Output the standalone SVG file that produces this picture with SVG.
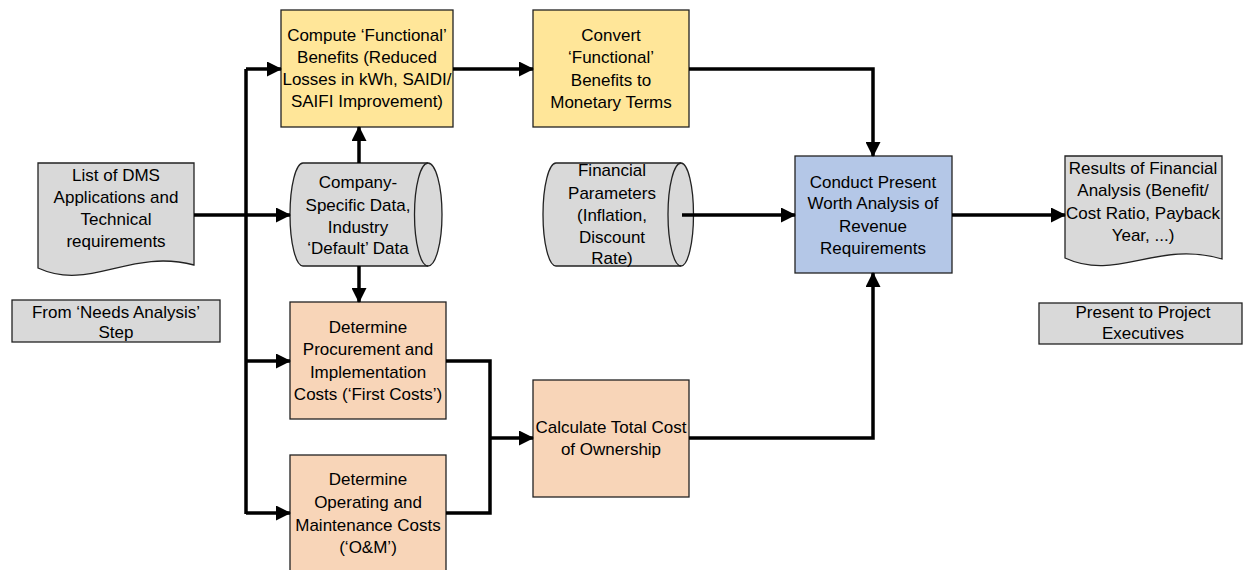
<svg xmlns="http://www.w3.org/2000/svg" width="1243" height="570" viewBox="0 0 1243 570">
<defs>
<marker id="ah" markerUnits="userSpaceOnUse" markerWidth="15" markerHeight="15" viewBox="0 0 15 15" refX="14" refY="7.5" orient="auto"><path d="M0,0 L15,7.5 L0,15 Z" fill="#000"/></marker>
<style>
.t{font-family:"Liberation Sans",Arial,sans-serif;font-size:17px;fill:#000;text-anchor:middle}
.b{stroke:#222;stroke-width:1.3}
.y{fill:#FFE699}.o{fill:#F8D5B8}.bl{fill:#B4C7E7}.g{fill:#D9D9D9}
.c{fill:none;stroke:#000;stroke-width:3.5}
.a{fill:none;stroke:#000;stroke-width:3.5;marker-end:url(#ah)}
</style>
</defs>
<rect width="1243" height="570" fill="#fff"/>
<g id="list">
<path class="b g" d="M38,163 H194 V265 C130,248 90,292 38,268 Z"/>
<text class="t" x="116" y="181">List of DMS</text>
<text class="t" x="116" y="203">Applications and</text>
<text class="t" x="116" y="225">Technical</text>
<text class="t" x="116" y="247">requirements</text>
</g>
<g id="from">
<rect class="b g" x="12" y="300" width="208" height="42"/>
<text class="t" x="116" y="318">From ‘Needs Analysis’</text>
<text class="t" x="116" y="338">Step</text>
</g>
<g id="compute">
<rect class="b y" x="281" y="10" width="172" height="117"/>
<text class="t" x="367" y="41">Compute ‘Functional’</text>
<text class="t" x="367" y="63">Benefits (Reduced</text>
<text class="t" x="367" y="85">Losses in kWh, SAIDI/</text>
<text class="t" x="367" y="107">SAIFI Improvement)</text>
</g>
<g id="convert">
<rect class="b y" x="533" y="10" width="156" height="117"/>
<text class="t" x="611" y="41">Convert</text>
<text class="t" x="611" y="63">‘Functional’</text>
<text class="t" x="611" y="86">Benefits to</text>
<text class="t" x="611" y="108">Monetary Terms</text>
</g>
<g id="company">
<path class="b g" d="M303,163 H428 A14,51.5 0 0 1 428,266 H303 A13,51.5 0 0 1 303,163 Z"/>
<path class="b" fill="none" d="M428,163 A13.5,51.5 0 0 0 428,266"/>
<text class="t" x="358" y="188">Company-</text>
<text class="t" x="358" y="211">Specific Data,</text>
<text class="t" x="358" y="233">Industry</text>
<text class="t" x="358" y="254">‘Default’ Data</text>
</g>
<g id="financial">
<path class="b g" d="M556,163 H681 A12.5,51.5 0 0 1 681,266 H556 A13,51.5 0 0 1 556,163 Z"/>
<path class="b" fill="none" d="M681,163 A13,51.5 0 0 0 681,266"/>
<text class="t" x="612" y="176">Financial</text>
<text class="t" x="612" y="199">Parameters</text>
<text class="t" x="612" y="221">(Inflation,</text>
<text class="t" x="612" y="243">Discount</text>
<text class="t" x="612" y="264">Rate)</text>
</g>
<g id="procurement">
<rect class="b o" x="290" y="302" width="156" height="117"/>
<text class="t" x="368" y="333">Determine</text>
<text class="t" x="368" y="355">Procurement and</text>
<text class="t" x="368" y="378">Implementation</text>
<text class="t" x="368" y="400">Costs (‘First Costs’)</text>
</g>
<g id="om">
<rect class="b o" x="290" y="455" width="156" height="125"/>
<text class="t" x="368" y="485">Determine</text>
<text class="t" x="368" y="508">Operating and</text>
<text class="t" x="368" y="531">Maintenance Costs</text>
<text class="t" x="368" y="553">(‘O&amp;M’)</text>
</g>
<g id="calculate">
<rect class="b o" x="533" y="380" width="156" height="117"/>
<text class="t" x="611" y="433">Calculate Total Cost</text>
<text class="t" x="611" y="455">of Ownership</text>
</g>
<g id="conduct">
<rect class="b bl" x="795" y="156" width="157" height="117"/>
<text class="t" x="873" y="188">Conduct Present</text>
<text class="t" x="873" y="209">Worth Analysis of</text>
<text class="t" x="873" y="232">Revenue</text>
<text class="t" x="873" y="254">Requirements</text>
</g>
<g id="results">
<path class="b g" d="M1065,156 H1222 V259 C1157,240 1117,282 1065,258 Z"/>
<text class="t" x="1143" y="174">Results of Financial</text>
<text class="t" x="1143" y="196">Analysis (Benefit/</text>
<text class="t" x="1143" y="219">Cost Ratio, Payback</text>
<text class="t" x="1143" y="241">Year, ...)</text>
</g>
<g id="present">
<rect class="b g" x="1039" y="303" width="203" height="41"/>
<text class="t" x="1143" y="318">Present to Project</text>
<text class="t" x="1143" y="339">Executives</text>
</g>
<g id="connectors">
<path class="c" d="M246,69 V514"/>
<path class="a" d="M246,69 H281"/>
<path class="a" d="M246,361 H290"/>
<path class="a" d="M246,513 H290"/>
<path class="a" d="M194,215 H290"/>
<path class="a" d="M453,69 H533"/>
<path class="a" d="M359,163 V127"/>
<path class="a" d="M359,266 V302"/>
<path class="c" d="M446,361 H490 V513 H446"/>
<path class="a" d="M490,438 H533"/>
<path class="a" d="M689,69 H873 V156"/>
<path class="a" d="M689,438 H873 V273"/>
<path class="a" d="M682,215 H795"/>
<path class="a" d="M952,215 H1065"/>
</g>
</svg>
